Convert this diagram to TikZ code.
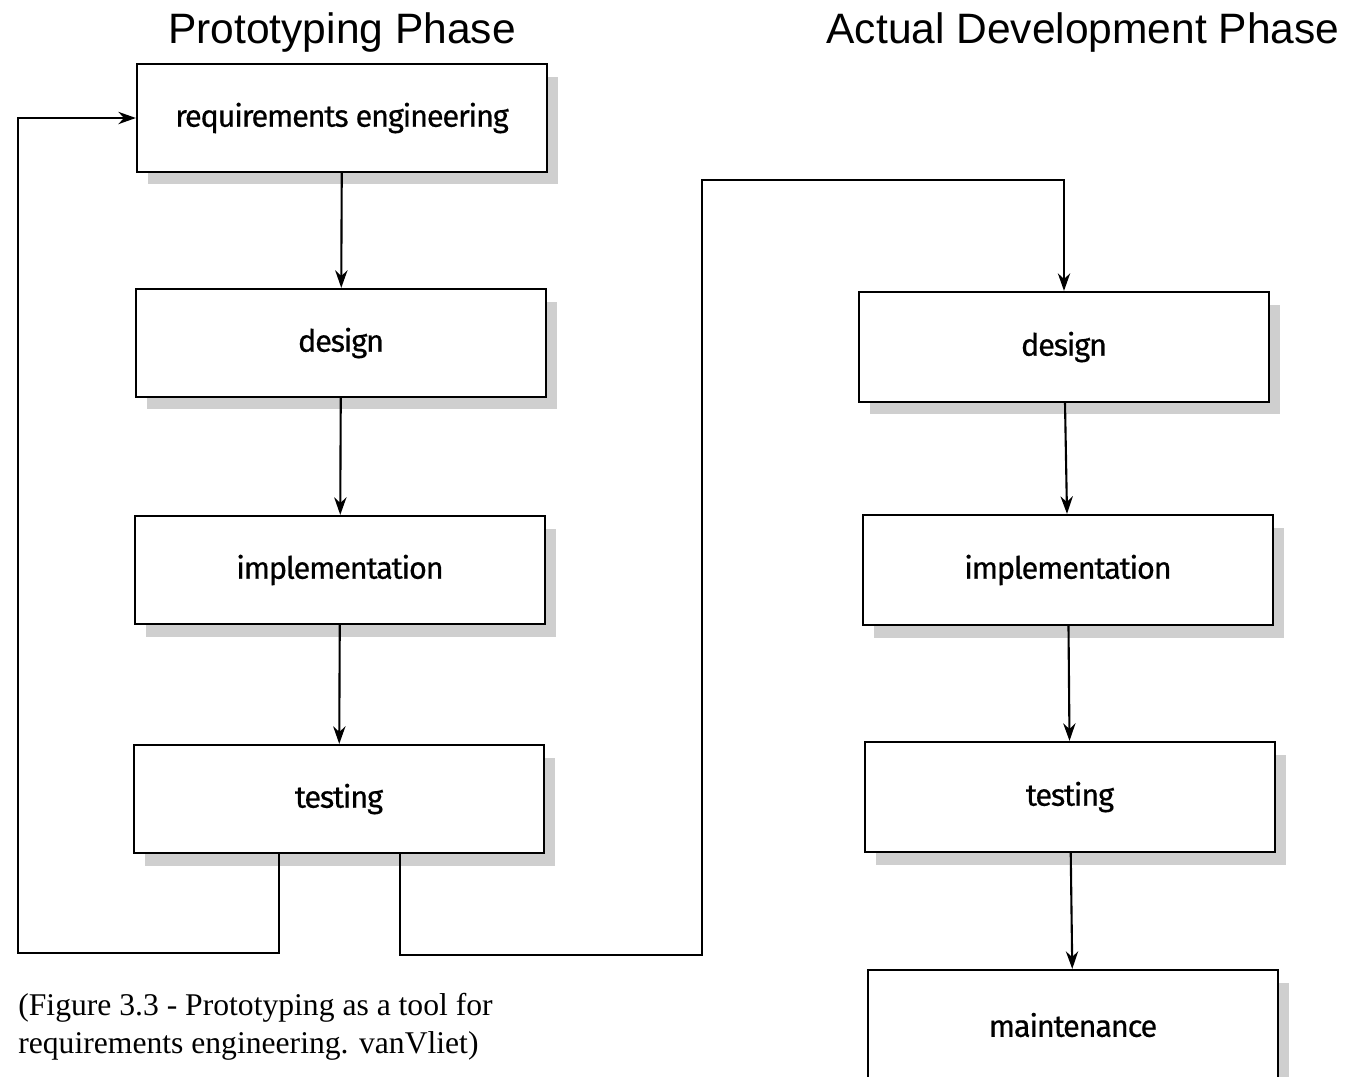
\documentclass[tikz,border=0pt]{standalone}
\usepackage{fontspec}
\setmainfont{Liberation Serif}
\newfontfamily\stagefont{Fira Sans}[FakeBold=0.5, LetterSpace=-4]
\newfontfamily\phasefont{Liberation Sans}
\usepackage{tikz}
\usetikzlibrary{arrows.meta, shadows}
\tikzstyle{stage}  = [rectangle, minimum width=8.2cm, minimum height=2.16cm, text centered, draw=black, line width=1.3pt, fill=white, drop shadow={shadow xshift=0.22cm, shadow yshift=-0.25cm, fill=gray!38, opacity=1}, font=\stagefont\fontsize{17.5}{20}\selectfont]
\tikzstyle{arrow}  = [line width=1.2pt, ->, >={Stealth[length=10pt, width=7pt]}]
\tikzstyle{phase}  = [font=\phasefont\fontsize{24.2}{29}\selectfont]
\tikzstyle{caption} = [anchor=west, align=left, inner sep=0pt, font=\fontsize{18}{21.5}\selectfont]

\begin{document}
\begin{tikzpicture}[x=0.02cm, y=-0.02cm]
    \useasboundingbox (0,0) rectangle (1345,1076);

    \node (tp)  at ( 342,  33) [phase] {Prototyping Phase};
    \node (ta)  at (1083,  33) [phase] {Actual Development Phase};

    % prototyping phase
    \node (req) at ( 342, 118) [stage] {requirements engineering};
    \node (pd)  at ( 341, 343) [stage] {design};
    \node (pi)  at ( 340, 570) [stage] {implementation};
    \node (pt)  at ( 339, 799) [stage] {testing};

    % actual development phase
    \node (ad)  at (1064, 347) [stage, minimum height=2.2cm] {design};
    \node (ai)  at (1068, 570) [stage, minimum height=2.2cm] {implementation};
    \node (at)  at (1070, 797) [stage, minimum height=2.2cm] {testing};
    \node (am)  at (1073,1025) [stage, minimum height=2.2cm] {maintenance};

    \node (cap) at (  18,1027) [caption] {(Figure 3.3 - Prototyping as a tool for\\requirements engineering. vanVliet)};

    \coordinate (loopL) at ( 18, 953);
    \coordinate (loopR) at (702, 955);
    \coordinate (topR)  at (702, 180);

    \draw [arrow] (req) -- (pd);
    \draw [arrow] (pd)  -- (pi);
    \draw [arrow] (pi)  -- (pt);
    \draw [arrow] ([xshift=-1.2cm]pt.south) |- (loopL) |- (req.west);
    \draw [arrow] ([xshift=1.22cm]pt.south) |- (loopR) -- (topR) -| (ad.north);
    \draw [arrow] (ad)  -- (ai);
    \draw [arrow] (ai)  -- (at);
    \draw [arrow] (at)  -- (am);
\end{tikzpicture}
\end{document}
